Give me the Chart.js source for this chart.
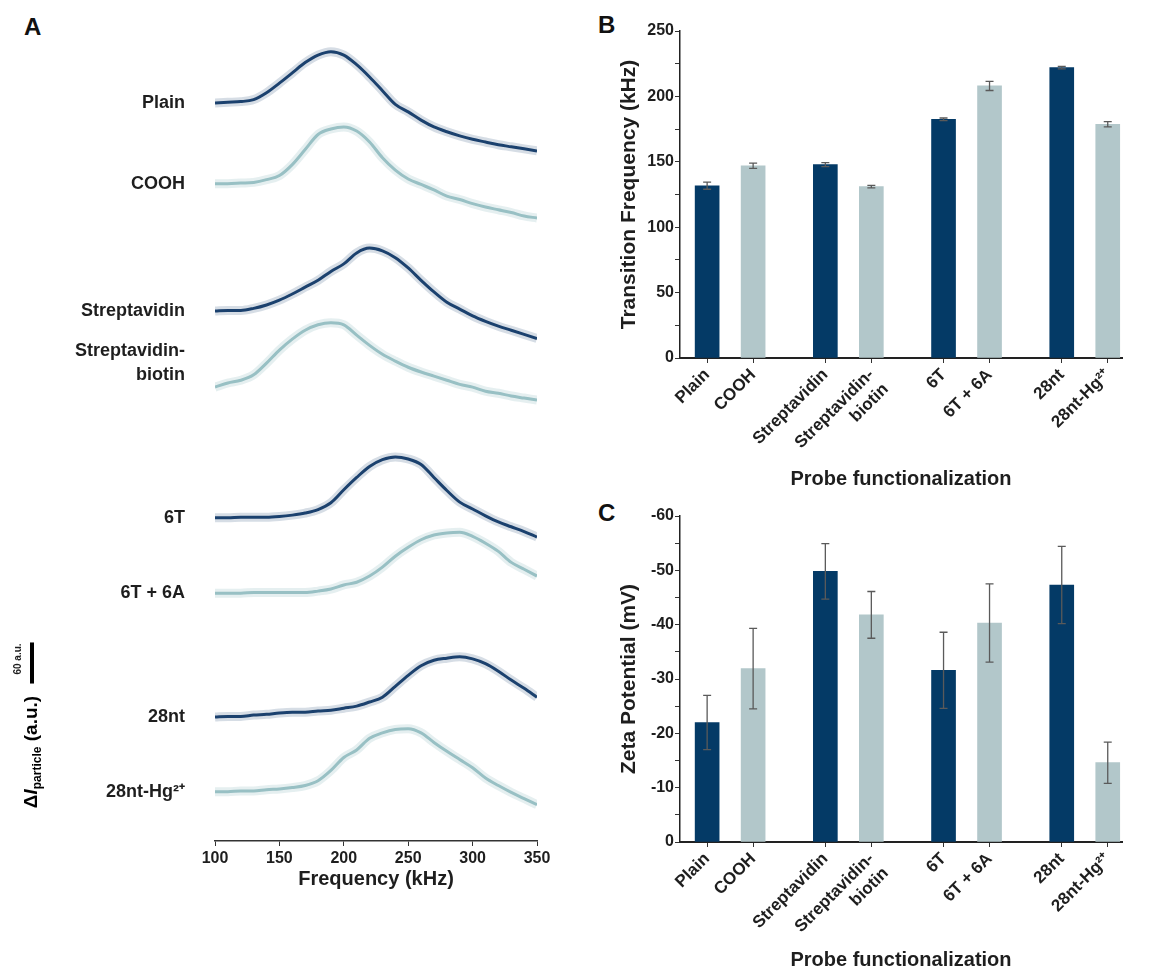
<!DOCTYPE html>
<html>
<head>
<meta charset="utf-8">
<script src="https://cdn.jsdelivr.net/npm/chart.js@4.4.1/dist/chart.umd.min.js"></script>
<style>
  body { margin: 0; background: #fff; width: 1170px; height: 972px; overflow: hidden; position: relative; }
  .panel { position: absolute; }
  .tag { position: absolute; font: bold 24px Arial, "Liberation Sans", sans-serif; line-height: 24px; color: #111; }
</style>
</head>
<body>
<div class="tag" style="left:24px;top:15px">A</div>
<div class="tag" style="left:598px;top:13px">B</div>
<div class="tag" style="left:598px;top:501px">C</div>
<div class="panel" style="left:0;top:0;width:590px;height:891px"><canvas id="spectraChart"></canvas></div>
<div class="panel" style="left:600px;top:0;width:570px;height:491px"><canvas id="freqChart"></canvas></div>
<div class="panel" style="left:600px;top:490px;width:570px;height:482px"><canvas id="zetaChart"></canvas></div>
<script>
// panel A: spectra, read every 10 kHz, signal above each trace's own baseline (a.u.)
const freqKHz = [100,110,120,130,140,150,160,170,180,190,200,210,220,230,240,250,260,270,280,290,300,310,320,330,340,350];
const spectraNames = ['Plain', 'COOH', 'Streptavidin', ['Streptavidin-', 'biotin'], '6T', '6T + 6A', '28nt', '28nt-Hg²⁺'];
const traceOffsets = [1078, 960, 774, 663, 472, 362, 181, 72];

const plainTrace  = [0,1,2,5,15,29,44,59,70,75,70,56,38,18,-2,-13,-25,-35,-42,-48,-53,-57,-61,-64,-67,-70];
const coohTrace   = [0,0,1,2,6,12,28,50,72,80,83,77,61,38,20,7,-1,-9,-18,-23,-29,-34,-38,-42,-47,-50];
const strepTrace  = [0,1,1,4,9,16,25,35,45,58,69,85,92,88,78,63,45,28,13,3,-7,-15,-22,-28,-34,-40];
const biotinTrace = [0,6,10,18,35,54,70,83,91,94,91,76,61,48,38,29,22,16,10,4,0,-6,-9,-13,-16,-19];
const t6Trace     = [0,0,1,1,1,2,4,7,12,22,41,59,75,85,89,86,78,59,40,23,13,3,-6,-13,-20,-28];
const t6a6Trace   = [0,0,0,1,1,1,1,1,3,6,12,16,25,38,54,67,78,85,88,89,83,73,61,45,35,25];
const nt28Trace   = [0,1,1,3,4,6,7,7,9,10,13,16,22,29,45,61,75,83,86,88,85,78,67,54,42,29];
const nt28HgTrace = [0,0,1,1,3,4,6,9,16,31,50,61,78,86,91,92,86,72,59,47,35,20,9,-1,-10,-19];
const traces = [plainTrace, coohTrace, strepTrace, biotinTrace, t6Trace, t6a6Trace, nt28Trace, nt28HgTrace];

// panels B and C
const probeLabels = ['Plain', 'COOH', 'Streptavidin', ['Streptavidin-', 'biotin'], '6T', '6T + 6A', '28nt', '28nt-Hg²⁺'];
const transitionFreq = [131.7, 147.0, 147.8, 131.0, 182.5, 208.0, 222.0, 178.7];
const transitionErr  = [2.7, 2.0, 1.5, 1.0, 1.0, 3.5, 1.0, 2.0];
const zetaMean = [-22.0, -31.9, -49.8, -41.8, -31.6, -40.3, -47.3, -14.6];
const zetaErr  = [5.0, 7.4, 5.1, 4.3, 7.0, 7.2, 7.1, 3.8];

const FONT = 'Arial, "Liberation Sans", sans-serif';
const INK = '#1e1e1e';
const BAR_DARK = '#043a66';
const BAR_LIGHT = '#b2c7ca';
const CURVE_DARK = '#1c416e';
const CURVE_LIGHT = '#98c0c4';
const HALO_DARK = 'rgba(30, 67, 111, 0.18)';
const HALO_LIGHT = 'rgba(152, 192, 196, 0.25)';

const barX = i => Math.floor(i / 2) * 2.57 + (i % 2);

const spectraLabels = {
    id: 'spectraLabels',
    afterDraw(chart) {
        const {ctx, scales: {y}} = chart;
        ctx.save();
        ctx.fillStyle = INK;
        ctx.font = `bold 18px ${FONT}`;
        ctx.textAlign = 'right';
        ctx.textBaseline = 'middle';
        spectraNames.forEach((name, i) => {
            const py = y.getPixelForValue(traceOffsets[i]);
            const lines = Array.isArray(name) ? name : [name];
            const shift = lines.length > 1 ? 12 : 0;
            lines.forEach((ln, k) => ctx.fillText(ln, 185, py - (lines.length - 1 - k) * 24 - shift));
        });

        // 60 a.u. scale bar
        const barTop = y.getPixelForValue(290), barBot = y.getPixelForValue(230);
        ctx.strokeStyle = '#000';
        ctx.lineWidth = 4;
        ctx.beginPath();
        ctx.moveTo(32, barTop);
        ctx.lineTo(32, barBot);
        ctx.stroke();

        ctx.translate(18, (barTop + barBot) / 2 - 4);
        ctx.rotate(-Math.PI / 2);
        ctx.textAlign = 'center';
        ctx.font = `bold 10px ${FONT}`;
        ctx.fillText('60 a.u.', 0, 0);
        ctx.restore();

        // rotated y title: ΔI_particle (a.u.)
        ctx.save();
        const parts = [
            {t: 'Δ', f: `bold 19px ${FONT}`, dy: 0},
            {t: 'I', f: `italic bold 19px ${FONT}`, dy: 0},
            {t: 'particle', f: `bold 12px ${FONT}`, dy: 4},
            {t: ' (a.u.)', f: `bold 19px ${FONT}`, dy: 0}
        ];
        let total = 0;
        parts.forEach(p => { ctx.font = p.f; p.w = ctx.measureText(p.t).width; total += p.w; });
        ctx.translate(37, 752);
        ctx.rotate(-Math.PI / 2);
        ctx.textAlign = 'left';
        ctx.textBaseline = 'alphabetic';
        let cx = -total / 2;
        parts.forEach(p => { ctx.font = p.f; ctx.fillText(p.t, cx, p.dy); cx += p.w; });
        ctx.restore();
    }
};

function errorBarPlugin(errors) {
    return {
        id: 'errorBars',
        afterDatasetsDraw(chart) {
            const {ctx, scales: {y}} = chart;
            const meta = chart.getDatasetMeta(0);
            const data = chart.data.datasets[0].data;
            ctx.save();
            ctx.strokeStyle = '#5a5a5a';
            ctx.lineWidth = 1.3;
            meta.data.forEach((bar, i) => {
                const v = data[i].y, e = errors[i];
                const hi = y.getPixelForValue(v + e), lo = y.getPixelForValue(v - e);
                ctx.beginPath();
                ctx.moveTo(bar.x, hi); ctx.lineTo(bar.x, lo);
                ctx.moveTo(bar.x - 4, hi); ctx.lineTo(bar.x + 4, hi);
                ctx.moveTo(bar.x - 4, lo); ctx.lineTo(bar.x + 4, lo);
                ctx.stroke();
            });
            ctx.restore();
        }
    };
}

const datasetsA = [];
traces.forEach((trace, i) => {
    const pts = freqKHz.map((f, k) => ({x: f, y: trace[k] + traceOffsets[i]}));
    datasetsA.push({data: pts, borderColor: i % 2 ? HALO_LIGHT : HALO_DARK, borderWidth: 9});
    datasetsA.push({data: pts, borderColor: i % 2 ? CURVE_LIGHT : CURVE_DARK, borderWidth: 3});
});

new Chart(document.getElementById('spectraChart'), {
    type: 'line',
    data: {datasets: datasetsA},
    options: {
        responsive: true,
        maintainAspectRatio: false,
        animation: false,
        layout: {padding: {top: 40, left: 215, right: 53, bottom: 0}},
        plugins: {legend: {display: false}, tooltip: {enabled: false}},
        elements: {point: {radius: 0}, line: {cubicInterpolationMode: 'monotone'}},
        scales: {
            x: {
                type: 'linear', min: 100, max: 350,
                ticks: {stepSize: 50, padding: 3, maxRotation: 0, color: INK, font: {family: FONT, size: 16, weight: 'bold'}},
                grid: {drawOnChartArea: false, tickLength: 5, color: '#333'},
                border: {color: '#333', width: 1.5},
                title: {display: true, text: 'Frequency (kHz)', color: INK, font: {family: FONT, size: 20, weight: 'bold'}, padding: {top: 4, bottom: 0}},
                afterFit: s => { s.height = 50; }
            },
            y: {display: false, min: 0, max: 1170}
        }
    },
    plugins: [spectraLabels]
});

function barChart(canvasId, values, errors, yOpts, padTop, xHeight) {
    return new Chart(document.getElementById(canvasId), {
        type: 'bar',
        data: {
            datasets: [{
                data: probeLabels.map((_, i) => ({x: barX(i), y: values[i]})),
                backgroundColor: ctx => ctx.dataIndex % 2 ? BAR_LIGHT : BAR_DARK,
                barThickness: 24
            }]
        },
        options: {
            responsive: true,
            maintainAspectRatio: false,
            animation: false,
            layout: {padding: {top: padTop, left: 17, right: 48, bottom: 0}},
            plugins: {legend: {display: false}, tooltip: {enabled: false}},
            scales: {
                x: {
                    type: 'linear', min: -0.59, max: 9.02, offset: false,
                    afterBuildTicks: s => { s.ticks = probeLabels.map((_, i) => ({value: barX(i)})); },
                    ticks: {
                        autoSkip: false, minRotation: 45, maxRotation: 45, padding: 2,
                        callback: (v, i) => probeLabels[i],
                        color: INK, font: {family: FONT, size: 17, weight: 'bold'}
                    },
                    grid: {drawOnChartArea: false, offset: false, tickLength: 5, color: '#333'},
                    border: {color: '#222', width: 2},
                    title: {display: true, text: 'Probe functionalization', color: INK, font: {family: FONT, size: 20, weight: 'bold'}, padding: {top: 4, bottom: 0}},
                    afterFit: s => { s.height = xHeight; }
                },
                y: Object.assign({
                    grid: {drawOnChartArea: false, tickLength: 5, color: '#333'},
                    border: {color: '#222', width: 1.5},
                    afterFit: s => { s.width = 63; }
                }, yOpts)
            }
        },
        plugins: [errorBarPlugin(errors)]
    });
}

barChart('freqChart', transitionFreq, transitionErr, {
    min: 0, max: 250,
    ticks: {stepSize: 25, padding: 1, callback: v => v % 50 === 0 ? v : '', color: INK, font: {family: FONT, size: 16, weight: 'bold'}},
    title: {display: true, text: 'Transition Frequency (kHz)', color: INK, font: {family: FONT, size: 21, weight: 'bold'}, padding: {top: 0, bottom: 4}}
}, 31, 133);

barChart('zetaChart', zetaMean, zetaErr, {
    min: -60, max: 0, reverse: true,
    ticks: {stepSize: 5, padding: 1, callback: v => v % 10 === 0 ? v : '', color: INK, font: {family: FONT, size: 16, weight: 'bold'}},
    title: {display: true, text: 'Zeta Potential (mV)', color: INK, font: {family: FONT, size: 21, weight: 'bold'}, padding: {top: 0, bottom: 4}}
}, 26, 130);
</script>
</body>
</html>
